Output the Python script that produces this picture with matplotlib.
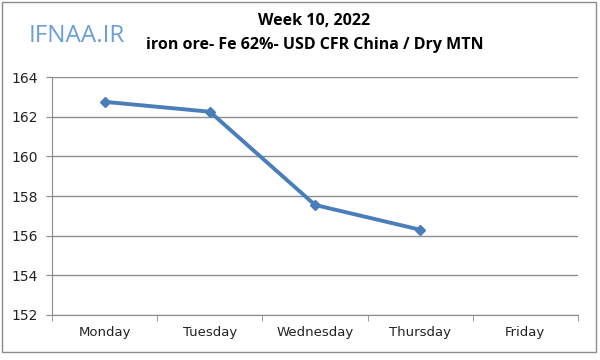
import matplotlib.pyplot as plt
from matplotlib.patches import Rectangle

# data
days = ['Monday', 'Tuesday', 'Wednesday', 'Thursday', 'Friday']
prices = [162.75, 162.25, 157.55, 156.3]
y_ticks = [152, 154, 156, 158, 160, 162, 164]

fig = plt.figure(figsize=(6, 3.6), dpi=100)
ax = fig.add_axes([0.087, 0.125, 0.876, 0.661])

xx = range(len(prices))
ax.plot(xx, prices, color='#4a7ebb', linewidth=2.8, marker='D', markersize=5.5)

ax.set_xlim(-0.5, len(days) - 0.5)
ax.set_ylim(152, 164)
ax.set_yticks(y_ticks)
ax.set_yticklabels([str(v) for v in y_ticks], fontsize=10, color='#222222')

# category labels between the tick marks
ax.set_xticks(range(len(days)))
ax.set_xticklabels(days, fontsize=9.5, color='#222222')
ax.tick_params(axis='x', which='major', length=0, pad=8)
ax.set_xticks([i - 0.5 for i in range(len(days) + 1)], minor=True)
ax.tick_params(axis='x', which='minor', length=4, color='#888888')
ax.tick_params(axis='y', length=4, color='#888888', pad=6)

ax.grid(axis='y', color='#8c8c8c', linewidth=1)
ax.set_axisbelow(True)
for s in ['top', 'right']:
    ax.spines[s].set_visible(False)
for s in ['left', 'bottom']:
    ax.spines[s].set_color('#8c8c8c')

# titles
fig.text(0.524, 0.943, 'Week 10, 2022', ha='center', va='center',
         fontsize=11.5, fontweight='bold', family='Open Sans')
fig.text(0.524, 0.876, 'iron ore- Fe 62%- USD CFR China / Dry MTN', ha='center',
         va='center', fontsize=11.5, fontweight='bold', family='Open Sans')
fig.text(0.048, 0.9, 'IFNAA.IR', ha='left', va='center', fontsize=17.5,
         color='#6b9fd8', family='Open Sans')

# outer frame
fig.patches.append(Rectangle((0.004, 0.022), 0.99, 0.972, transform=fig.transFigure,
                             fill=False, edgecolor='#8c8c8c', linewidth=1))

fig.savefig('out.png', dpi=100)
